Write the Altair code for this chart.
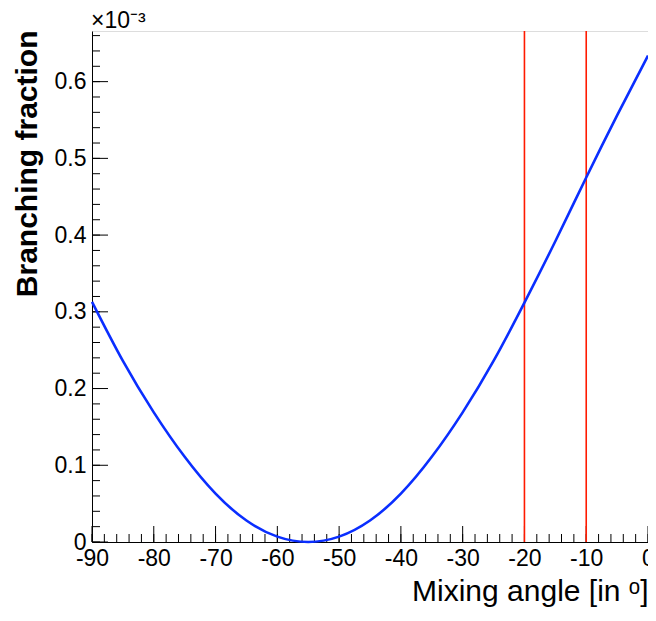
import altair as alt
import pandas as pd

# Mixing angle (degrees) and branching fraction (units of 1e-3)
angle = [-90, -85, -80, -75, -70, -65, -60, -55, -50, -45, -40, -35, -30, -25, -20, -15, -10, -5, 0]
bf = [0.313, 0.236, 0.169, 0.111, 0.063, 0.028, 0.007, 0.000, 0.007, 0.028, 0.063, 0.111,
      0.169, 0.236, 0.312, 0.392, 0.475, 0.556, 0.634]

# vertical limit lines
limits = [-20, -10]

# tick positions
x_major = list(range(-90, 1, 10))
x_minor = list(range(-90, 1, 2))
y_major = [0, 0.1, 0.2, 0.3, 0.4, 0.5, 0.6]
y_minor = [round(i * 0.02, 2) for i in range(0, 34)]

FONT = "Liberation Sans"
W, H = 556, 511

curve = pd.DataFrame({"angle": angle, "bf": bf})
lim_df = pd.DataFrame({"angle": limits})
xM = pd.DataFrame({"angle": x_major})
xm = pd.DataFrame({"angle": x_minor})
yM = pd.DataFrame({"bf": y_major})
ym = pd.DataFrame({"bf": y_minor})

xscale = alt.Scale(domain=[-90, 0], nice=False, zero=False)
yscale = alt.Scale(domain=[0, 0.666], nice=False, zero=False)

xaxis = alt.Axis(
    values=x_major, ticks=False, grid=False, domainColor="black", domainWidth=1,
    labelFont=FONT, labelFontSize=23, labelColor="black", labelPadding=5,
    labelFlush=False, labelOverlap=False, labelExpr="'' + datum.value",
    title="Mixing angle [in ᵒ]", titleFont=FONT, titleFontSize=30, titleFontWeight="normal",
    titleColor="black", titleAnchor="end", titleAlign="right", titleBaseline="alphabetic",
    titleX=W, titleY=58,
)
yaxis = alt.Axis(
    values=y_major, ticks=False, grid=False, domainColor="black", domainWidth=1,
    labelFont=FONT, labelFontSize=23, labelColor="black", labelPadding=6,
    labelFlush=False, labelOverlap=False, format="~g",
    title="Branching fraction", titleFont=FONT, titleFontSize=30, titleFontWeight="bold",
    titleColor="black", titleAngle=270, titleAlign="right", titleBaseline="alphabetic",
    titleX=-56, titleY=-1,
)

line = alt.Chart(curve).mark_line(color="#0a2eff", strokeWidth=2.6, interpolate="natural").encode(
    x=alt.X("angle:Q", scale=xscale, axis=xaxis),
    y=alt.Y("bf:Q", scale=yscale, axis=yaxis),
)

red = alt.Chart(lim_df).mark_rule(color="#ff1a00", strokeWidth=1.6).encode(
    x=alt.X("angle:Q", scale=xscale),
    y=alt.value(0), y2=alt.value(H),
)

xt_major = alt.Chart(xM).mark_rule(color="black", strokeWidth=1).encode(
    x=alt.X("angle:Q", scale=xscale), y=alt.value(H), y2=alt.value(H - 16))
xt_minor = alt.Chart(xm).mark_rule(color="black", strokeWidth=1).encode(
    x=alt.X("angle:Q", scale=xscale), y=alt.value(H), y2=alt.value(H - 8))
yt_major = alt.Chart(yM).mark_rule(color="black", strokeWidth=1).encode(
    y=alt.Y("bf:Q", scale=yscale), x=alt.value(0), x2=alt.value(16))
yt_minor = alt.Chart(ym).mark_rule(color="black", strokeWidth=1).encode(
    y=alt.Y("bf:Q", scale=yscale), x=alt.value(0), x2=alt.value(8))

chart = alt.layer(xt_minor, xt_major, yt_minor, yt_major, red, line).properties(
    width=W, height=H,
    title=alt.TitleParams("×10⁻³", anchor="start", frame="group", font=FONT, fontSize=23,
                          fontWeight="normal", color="black", offset=3, dx=-1, dy=6),
    padding={"left": 84, "top": 23, "right": 0, "bottom": 67},
    autosize=alt.AutoSizeParams(type="none"),
).configure_view(stroke="#555555", strokeWidth=1).configure(background="white")

chart.save("out.html", embed_options={"renderer": "svg", "actions": False})
